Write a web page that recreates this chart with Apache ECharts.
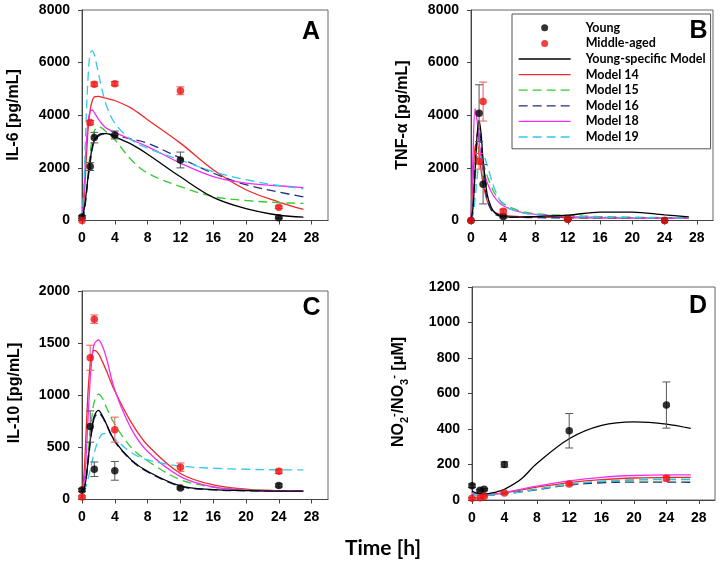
<!DOCTYPE html>
<html><head><meta charset="utf-8">
<script src="https://cdn.jsdelivr.net/npm/echarts@6/dist/echarts.min.js"></script>
<style>html,body{margin:0;padding:0;background:#fff}#c{width:720px;height:564px}</style>
</head><body><div id="c"></div>
<script>
// ---------- data ----------
const obsTimes = [0, 1, 1.5, 4, 12, 24];
const modelTimes = [0, 0.25, 0.5, 0.75, 1, 1.25, 1.5, 2, 2.5, 3, 4, 6, 8, 12, 16, 20, 24, 27];
const xTickLabels = [0, 4, 8, 12, 16, 20, 24, 28];

// Panel A: IL-6 [pg/mL]
const il6Young    = [130, 2050, 3150, 3250, 2300, 100];
const il6YoungErr = [50, 150, 200, 150, 300, 30];
const il6Mid      = [0, 3720, 5180, 5200, 4930, 500];
const il6MidErr   = [0, 80, 80, 80, 150, 50];
const il6YoungModel = [100, 400, 1000, 1700, 2300, 2800, 3050, 3250, 3300, 3300, 3180, 2900, 2520, 1660, 880, 450, 200, 130];
const il6Model14 = [0, 800, 2200, 3500, 4200, 4550, 4700, 4720, 4680, 4640, 4560, 4270, 3830, 2940, 1930, 1170, 700, 420];
const il6Model15 = [0, 300, 900, 1800, 2600, 3100, 3400, 3560, 3500, 3350, 3070, 2310, 1800, 1290, 910, 760, 680, 650];
const il6Model16 = [0, 300, 900, 1600, 2200, 2700, 3000, 3200, 3280, 3300, 3230, 3100, 2940, 2370, 1800, 1360, 1080, 900];
const il6Model18 = [0, 1200, 2800, 3800, 4150, 4200, 4100, 3850, 3650, 3500, 3350, 3070, 2810, 2180, 1670, 1420, 1320, 1250];
const il6Model19 = [0, 1500, 3800, 5500, 6350, 6450, 6300, 5600, 4900, 4350, 3700, 3070, 2750, 2300, 1860, 1550, 1330, 1200];

// Panel B: TNF-alpha [pg/mL]
const tnfYoung    = [0, 4080, 1380, 150, 50, 0];
const tnfYoungErr = [0, 1080, 750, 50, 20, 0];
const tnfMid      = [0, 2250, 4520, 350, 50, 0];
const tnfMidErr   = [0, 300, 740, 80, 20, 0];
const tnfYoungModel = [0, 500, 1800, 3200, 3800, 3300, 2300, 1000, 500, 280, 150, 130, 150, 200, 320, 320, 210, 140];
const tnfModel14 = [0, 1500, 2800, 2950, 2500, 1900, 1400, 750, 450, 300, 200, 150, 130, 110, 100, 100, 90, 80];
const tnfModel15 = [0, 400, 1500, 2400, 2700, 2500, 2200, 1700, 1300, 1000, 650, 370, 260, 190, 150, 130, 110, 100];
const tnfModel16 = [0, 600, 2000, 3200, 3500, 2800, 1800, 800, 400, 230, 150, 120, 110, 100, 100, 90, 90, 80];
const tnfModel18 = [0, 2500, 4250, 3800, 3000, 2400, 2000, 1450, 1100, 850, 560, 330, 230, 150, 110, 100, 90, 80];
const tnfModel19 = [0, 200, 800, 1600, 2200, 2450, 2450, 2100, 1600, 1150, 600, 320, 220, 160, 130, 110, 100, 90];

// Panel C: IL-10 [pg/mL]
const il10Young    = [90, 700, 290, 275, 110, 135];
const il10YoungErr = [15, 150, 70, 90, 10, 15];
const il10Mid      = [25, 1360, 1730, 670, 310, 270];
const il10MidErr   = [10, 120, 40, 120, 40, 20];
const il10YoungModel = [80, 100, 200, 380, 560, 700, 800, 855, 800, 720, 560, 380, 270, 130, 95, 85, 80, 80];
const il10Model14 = [80, 250, 650, 1050, 1300, 1400, 1430, 1400, 1320, 1230, 1040, 740, 520, 250, 140, 100, 85, 80];
const il10Model15 = [80, 120, 250, 450, 650, 820, 940, 1010, 970, 880, 720, 500, 370, 190, 120, 95, 85, 80];
const il10Model16 = [80, 95, 190, 360, 540, 680, 780, 830, 790, 710, 555, 375, 265, 125, 92, 83, 80, 80];
const il10Model18 = [80, 150, 400, 800, 1150, 1380, 1490, 1530, 1470, 1350, 1050, 680, 460, 220, 120, 90, 80, 80];
const il10Model19 = [80, 90, 130, 200, 280, 370, 450, 570, 630, 635, 580, 450, 380, 320, 300, 290, 285, 285];

// Panel D: NO2-/NO3- [uM]
const noYoung    = [80, 55, 60, 200, 390, 535];
const noYoungErr = [10, 5, 5, 15, 97, 130];
const noMid      = [10, 12, 20, 40, 90, 122];
const noMidErr   = [4, 3, 3, 5, 8, 15];
const noYoungModel = [50, 45, 40, 37, 35, 34, 34, 36, 40, 45, 60, 115, 205, 345, 420, 440, 428, 403];
const noModel14 = [40, 38, 35, 33, 32, 31, 31, 31, 32, 34, 40, 56, 72, 98, 115, 124, 127, 128];
const noModel15 = [35, 33, 31, 30, 29, 28, 28, 28, 29, 30, 35, 48, 62, 88, 104, 112, 115, 115];
const noModel16 = [35, 33, 31, 30, 29, 28, 28, 28, 29, 30, 34, 46, 58, 84, 97, 101, 101, 100];
const noModel18 = [40, 38, 35, 33, 32, 31, 31, 31, 32, 34, 42, 60, 78, 108, 128, 138, 141, 141];
const noModel19 = [35, 33, 31, 30, 29, 28, 28, 28, 29, 30, 34, 46, 60, 88, 106, 115, 118, 118];

// ---------- styling ----------
const modelNames = ['Young-specific Model', 'Model 14', 'Model 15', 'Model 16', 'Model 18', 'Model 19'];
const modelColors = ['#000000', '#ee2a2a', '#33cc33', '#1c2f80', '#f030f0', '#33c8ee'];
const modelDash = ['solid', 'solid', [9, 5], [9, 5], 'solid', [9, 5]];

const panels = [
  {young: il6Young, youngErr: il6YoungErr, mid: il6Mid, midErr: il6MidErr,
   models: [il6YoungModel, il6Model14, il6Model15, il6Model16, il6Model18, il6Model19], ymax: 8000, yint: 2000},
  {young: tnfYoung, youngErr: tnfYoungErr, mid: tnfMid, midErr: tnfMidErr,
   models: [tnfYoungModel, tnfModel14, tnfModel15, tnfModel16, tnfModel18, tnfModel19], ymax: 8000, yint: 2000},
  {young: il10Young, youngErr: il10YoungErr, mid: il10Mid, midErr: il10MidErr,
   models: [il10YoungModel, il10Model14, il10Model15, il10Model16, il10Model18, il10Model19], ymax: 2000, yint: 500},
  {young: noYoung, youngErr: noYoungErr, mid: noMid, midErr: noMidErr,
   models: [noYoungModel, noModel14, noModel15, noModel16, noModel18, noModel19], ymax: 1200, yint: 200}
];

const grids = [
  {left: 82, top: 10, width: 246, height: 210.5},
  {left: 471, top: 10, width: 242, height: 210.5},
  {left: 82, top: 291, width: 246, height: 208.5},
  {left: 472, top: 287, width: 243, height: 213}
];

const tickFont = {fontFamily: '"Liberation Sans", Arial, sans-serif', fontWeight: 'bold', fontSize: 14, color: '#000'};
const axisCol = '#444';
const plain = v => String(v);

function errRender(color) {
  return function (params, api) {
    const x = api.value(0), lo = api.value(1), hi = api.value(2);
    const p1 = api.coord([x, hi]), p2 = api.coord([x, lo]);
    const w = 4;
    const st = {stroke: color, lineWidth: 1};
    return {type: 'group', children: [
      {type: 'line', shape: {x1: p1[0], y1: p1[1], x2: p2[0], y2: p2[1]}, style: st},
      {type: 'line', shape: {x1: p1[0] - w, y1: p1[1], x2: p1[0] + w, y2: p1[1]}, style: st},
      {type: 'line', shape: {x1: p2[0] - w, y1: p2[1], x2: p2[0] + w, y2: p2[1]}, style: st}
    ]};
  };
}

const xAxes = [], yAxes = [], series = [];
panels.forEach((p, i) => {
  xAxes.push({
    gridIndex: i, type: 'value', min: 0, max: 30, interval: 4,
    axisLine: {show: true, lineStyle: {color: axisCol, width: 1}},
    axisTick: {show: true, length: 4, inside: false, lineStyle: {color: axisCol}, customValues: xTickLabels},
    axisLabel: Object.assign({margin: 11, customValues: xTickLabels, formatter: plain}, tickFont),
    splitLine: {show: false}
  });
  yAxes.push({
    gridIndex: i, type: 'value', min: 0, max: p.ymax, interval: p.yint,
    axisLine: {show: true, lineStyle: {color: axisCol, width: 1}},
    axisTick: {show: true, length: 4, inside: false, lineStyle: {color: axisCol}},
    axisLabel: Object.assign({margin: 12, formatter: plain}, tickFont),
    splitLine: {show: false}
  });
  p.models.forEach((vals, m) => {
    series.push({
      type: 'line', name: modelNames[m], xAxisIndex: i, yAxisIndex: i,
      data: modelTimes.map((t, k) => [t, vals[k]]),
      symbol: 'none', showSymbol: false, smooth: 0.35, z: 2 + (m === 0 ? 0.5 : 0),
      lineStyle: {color: modelColors[m], width: 1.3, type: modelDash[m]},
      itemStyle: {color: modelColors[m]}
    });
  });
  const errData = (v, e) => obsTimes.map((t, k) => [t, v[k] - e[k], v[k] + e[k]]).filter((d, k) => e[k] > 0);
  series.push({type: 'custom', name: 'Young SD', xAxisIndex: i, yAxisIndex: i, z: 4,
    renderItem: errRender('#555'), data: errData(p.young, p.youngErr), encode: {x: 0, y: [1, 2]}});
  series.push({type: 'custom', name: 'Middle-aged SD', xAxisIndex: i, yAxisIndex: i, z: 4,
    renderItem: errRender('#e85a5a'), data: errData(p.mid, p.midErr), encode: {x: 0, y: [1, 2]}});
  series.push({type: 'scatter', name: 'Young', xAxisIndex: i, yAxisIndex: i, z: 5,
    symbol: 'circle', symbolSize: 7.5, itemStyle: {color: '#000'},
    data: obsTimes.map((t, k) => [t, p.young[k]])});
  series.push({type: 'scatter', name: 'Middle-aged', xAxisIndex: i, yAxisIndex: i, z: 6,
    symbol: 'circle', symbolSize: 7.5, itemStyle: {color: '#ee1111'},
    data: obsTimes.map((t, k) => [t, p.mid[k]])});
});

const hideDot = {opacity: 0};
const legendData = [
  {name: 'Young', icon: 'circle'},
  {name: 'Middle-aged', icon: 'circle'}
].concat(modelNames.map(n => ({name: n, itemStyle: hideDot, lineStyle: {width: 1.3}})));

const yNameFont = 'bold 16px "Liberation Sans", Arial, sans-serif';
const letterFont = 'bold 25px "Liberation Sans", Arial, sans-serif';
function txt(x, y, text, font, rot) {
  return {type: 'text', x: x, y: y, rotation: rot || 0, z: 100,
    style: {text: text, font: font, fill: '#000', align: 'center', verticalAlign: 'middle'}};
}

const option = {
  animation: false,
  backgroundColor: '#fff',
  grid: grids.map(g => Object.assign({show: true, borderColor: '#666', borderWidth: 1, backgroundColor: 'transparent'}, g)),
  xAxis: xAxes,
  yAxis: yAxes,
  legend: {
    data: legendData, orient: 'vertical', left: 512, top: 14,
    padding: [6, 5, 4, 6], itemGap: 0, itemWidth: 52, itemHeight: 7,
    borderColor: '#555', borderWidth: 1, backgroundColor: '#fff',
    selectedMode: false,
    textStyle: {fontFamily: 'Lato, "Open Sans", sans-serif', fontWeight: 'bold', fontSize: 12.5, color: '#000',
      lineHeight: 15.6, padding: [0, 0, 0, 10]}
  },
  graphic: [
    txt(311, 32, 'A', letterFont),
    txt(698.5, 31, 'B', letterFont),
    txt(311.5, 308, 'C', letterFont),
    txt(698, 306, 'D', letterFont),
    txt(13.5, 115, 'IL-6 [pg/mL]', yNameFont, Math.PI / 2),
    txt(403, 115, 'TNF-\u03b1 [pg/mL]', yNameFont, Math.PI / 2),
    txt(14.5, 393, 'IL-10 [pg/mL]', yNameFont, Math.PI / 2),
    {type: 'text', x: 399, y: 392, rotation: Math.PI / 2, z: 100,
      style: {text: '{n|NO}{sub|2}{sup|-}{n|/NO}{sub|3}{sup|-}{n| [\u03bcM]}',
        align: 'center', verticalAlign: 'middle', fill: '#000',
        rich: {
          n: {font: yNameFont, lineHeight: 22, verticalAlign: 'middle'},
          sub: {font: 'bold 11px "Liberation Sans", Arial, sans-serif', lineHeight: 12, verticalAlign: 'bottom'},
          sup: {font: 'bold 11px "Liberation Sans", Arial, sans-serif', lineHeight: 12, verticalAlign: 'top'}
        }}},
    txt(383, 548, 'Time [h]', 'bold 21px Lato, "Open Sans", sans-serif')
  ],
  series: series
};

const chart = echarts.init(document.getElementById('c'), null, {renderer: 'canvas'});
chart.setOption(option);
</script>
</body></html>
